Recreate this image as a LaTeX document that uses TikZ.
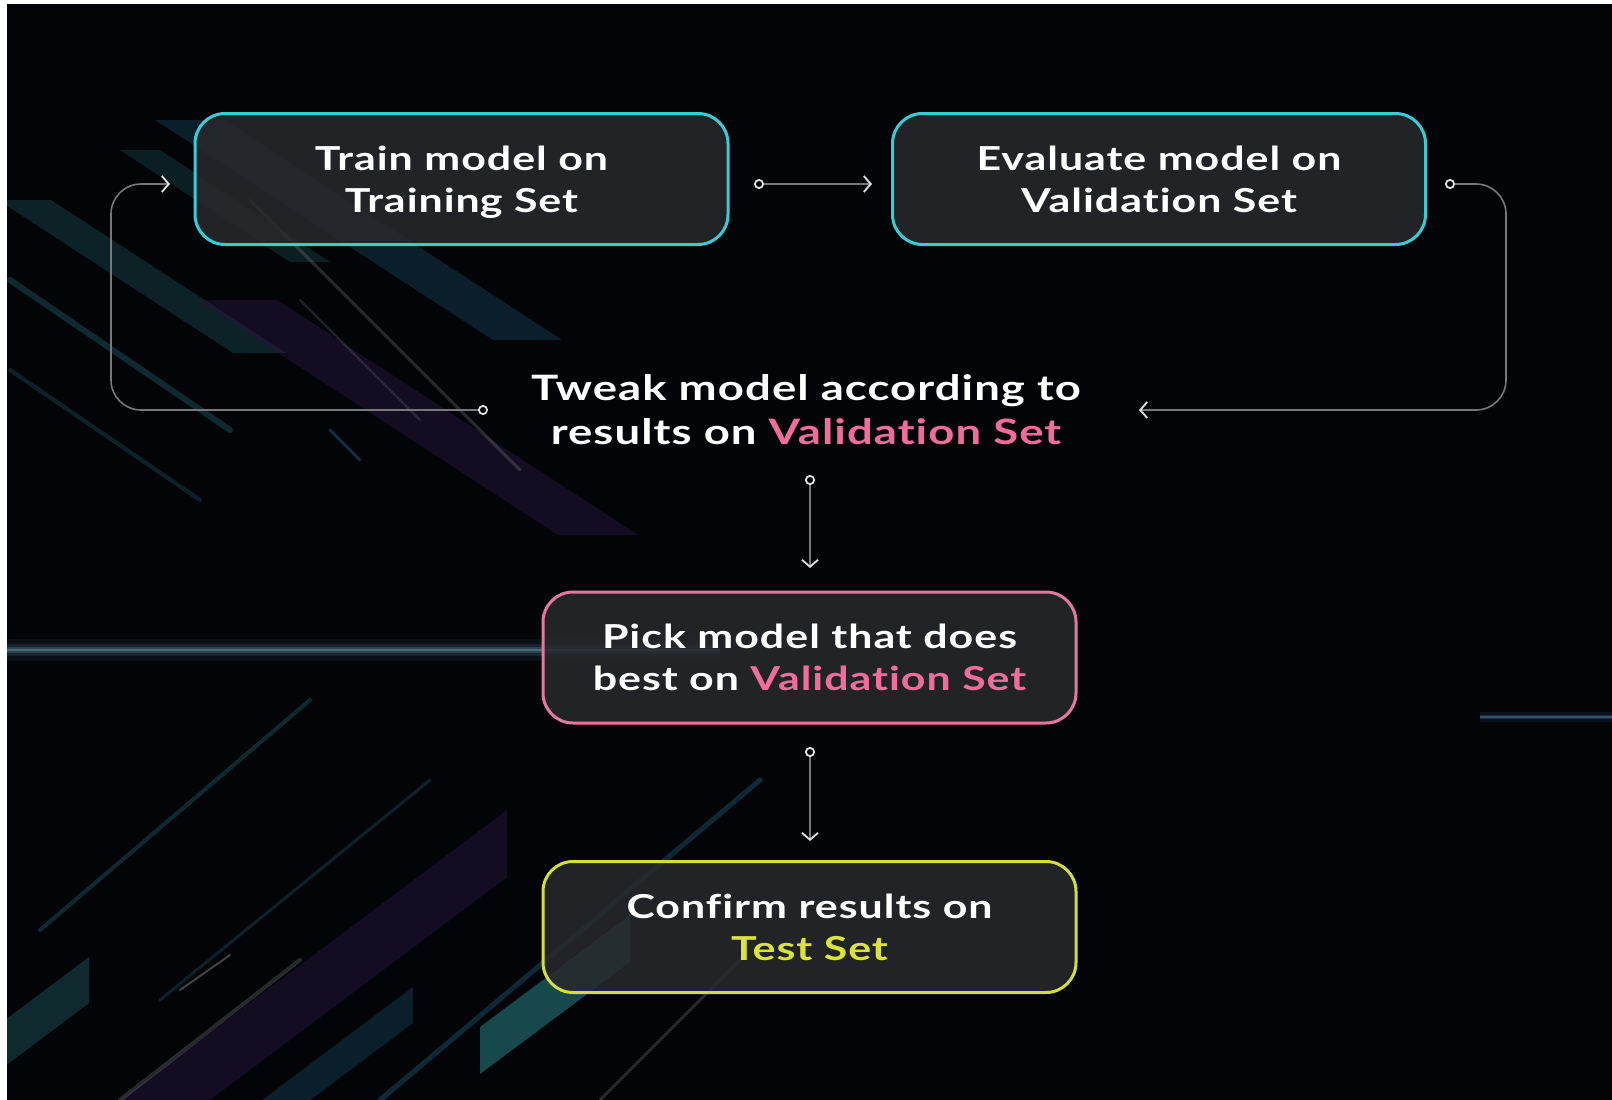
\documentclass[tikz,border=0pt]{standalone}
\usepackage{fontspec}
\setmainfont{Lato}[FakeStretch=1.3, LetterSpace=3, Ligatures=NoCommon]
\usetikzlibrary{arrows.meta,calc}
\definecolor{bg}{RGB}{3,4,8}
\definecolor{boxfill}{RGB}{40,41,44}
\definecolor{cyanb}{RGB}{58,204,214}
\definecolor{pinkb}{RGB}{226,122,160}
\definecolor{pinkt}{RGB}{240,108,156}
\definecolor{yellowb}{RGB}{212,222,58}
\definecolor{yellowt}{RGB}{218,228,56}
\definecolor{linegray}{RGB}{120,120,124}
\definecolor{tipwhite}{RGB}{225,225,228}
\definecolor{tealband}{RGB}{26,80,84}
\definecolor{blueband}{RGB}{18,58,74}
\definecolor{purpband}{RGB}{38,22,58}
\tikzset{
  flowbox/.style={draw=#1, line width=3pt, rounded corners=30pt, fill=boxfill,
    fill opacity=0.85, text opacity=1, minimum width=533pt, minimum height=131pt,
    align=center, text=white, font=\fontsize{33}{42}\selectfont\bfseries},
  plaintext/.style={align=center, text=white, font=\fontsize{35}{44}\selectfont\bfseries},
  conn/.style={draw=linegray, line width=1.6pt, rounded corners=30pt,
    arrows={Circle[open,fill=bg,length=10pt,width=10pt,color=tipwhite,line width=1.8pt]-Straight Barb[length=7pt,width=16pt,color=tipwhite,line width=1.8pt]}},
  band/.style={fill=#1, fill opacity=0.5, draw=none},
  streak/.style={draw=#1, line cap=round}
}
\begin{document}
\begin{tikzpicture}[x=1pt,y=-1pt]
\useasboundingbox (0,0) rectangle (1612,1100);
\fill[white] (0,0) rectangle (1612,1100);
\fill[bg] (7,4) rectangle (1612,1100);
\begin{scope}
\clip (7,4) rectangle (1612,1100);
% upper-left bands
\fill[band=blueband] (155,120) -- (224,120) -- (562,340) -- (493,340) -- cycle;
\fill[band=tealband, fill opacity=0.4] (-2,200) -- (51,200) -- (286,353) -- (233,353) -- cycle;
\fill[band=purpband] (197,300) -- (277,300) -- (638,535) -- (558,535) -- cycle;
\fill[band=tealband, fill opacity=0.35] (120,150) -- (160,150) -- (330,262) -- (290,262) -- cycle;
\draw[streak=tealband, line width=6pt, opacity=0.5] (10,280) -- (230,430);
\draw[streak=tealband, line width=4pt, opacity=0.4] (10,370) -- (200,500);
\draw[streak=gray, line width=3pt, opacity=0.3] (250,200) -- (520,470);
\draw[streak=gray, line width=2pt, opacity=0.25] (300,300) -- (420,420);
\draw[streak=blueband, line width=3pt, opacity=0.8] (330,430) -- (360,460);
% lower-left bands
\fill[band=tealband] (89,957) -- (89,1003) -- (-11,1078) -- (-11,1032) -- cycle;
\fill[band=purpband] (507,810) -- (507,877) -- (107,1177) -- (107,1110) -- cycle;
\fill[band=blueband] (413,987) -- (413,1023) -- (213,1173) -- (213,1137) -- cycle;
\fill[band=tealband, fill opacity=0.9] (630,915) -- (630,962) -- (480,1074) -- (480,1027) -- cycle;
\draw[streak=tealband, line width=4pt, opacity=0.5] (40,930) -- (310,700);
\draw[streak=tealband, line width=3pt, opacity=0.4] (160,1000) -- (430,780);
\draw[streak=gray, line width=4pt, opacity=0.3] (120,1100) -- (300,960);
\draw[streak=gray, line width=2pt, opacity=0.5] (180,990) -- (230,955);
\draw[streak=blueband, line width=5pt, opacity=0.7] (380,1100) -- (760,780);
\draw[streak=gray, line width=3pt, opacity=0.3] (600,1100) -- (740,960);
% flares
\foreach \w/\o in {22/0.06,12/0.10,6/0.16,2.5/0.25}{
  \draw[line width=\w pt, draw=blue!30!cyan!40!white, opacity=\o] (7,650) -- (720,650);
}
\foreach \w/\o in {10/0.08,4/0.15,2/0.25}{
  \draw[line width=\w pt, draw=blue!50!cyan!50!white, opacity=\o] (1480,717) -- (1612,717);
}
\end{scope}

% boxes
\node[flowbox=cyanb] (train) at (461.5,179) {Train model on\\Trainin\smash{g} Set};
\node[flowbox=cyanb] (eval) at (1159,179) {Evaluate model on\\Validation Set};
\node[plaintext] (tweak) at (806,410) {Tweak model according to\\results on \textcolor{pinkt}{Validation Set}};
\node[flowbox=pinkb] (pick) at (809.5,657.5) {Pick model that does\\best on \textcolor{pinkt}{Validation Set}};
\node[flowbox=yellowb] (confirm) at (809.5,927) {Confirm results on\\\textcolor{yellowt}{Test Set}};

% connector end points
\coordinate (a1) at (754,184);
\coordinate (a2) at (872,184);
\coordinate (l1) at (488,410);
\coordinate (lc) at (111,184);
\coordinate (l2) at (170,184);
\coordinate (r1) at (1445,184);
\coordinate (rc) at (1506,410);
\coordinate (r2) at (1139,410);
\coordinate (v1) at (810,475);
\coordinate (v2) at (810,568);
\coordinate (w1) at (810,747);
\coordinate (w2) at (810,841);

\draw[conn] (a1) -- (a2);
\draw[conn] (l1) -| (lc) -- (l2);
\draw[conn] (r1) -| (rc) -- (r2);
\draw[conn] (v1) -- (v2);
\draw[conn] (w1) -- (w2);
\end{tikzpicture}
\end{document}
